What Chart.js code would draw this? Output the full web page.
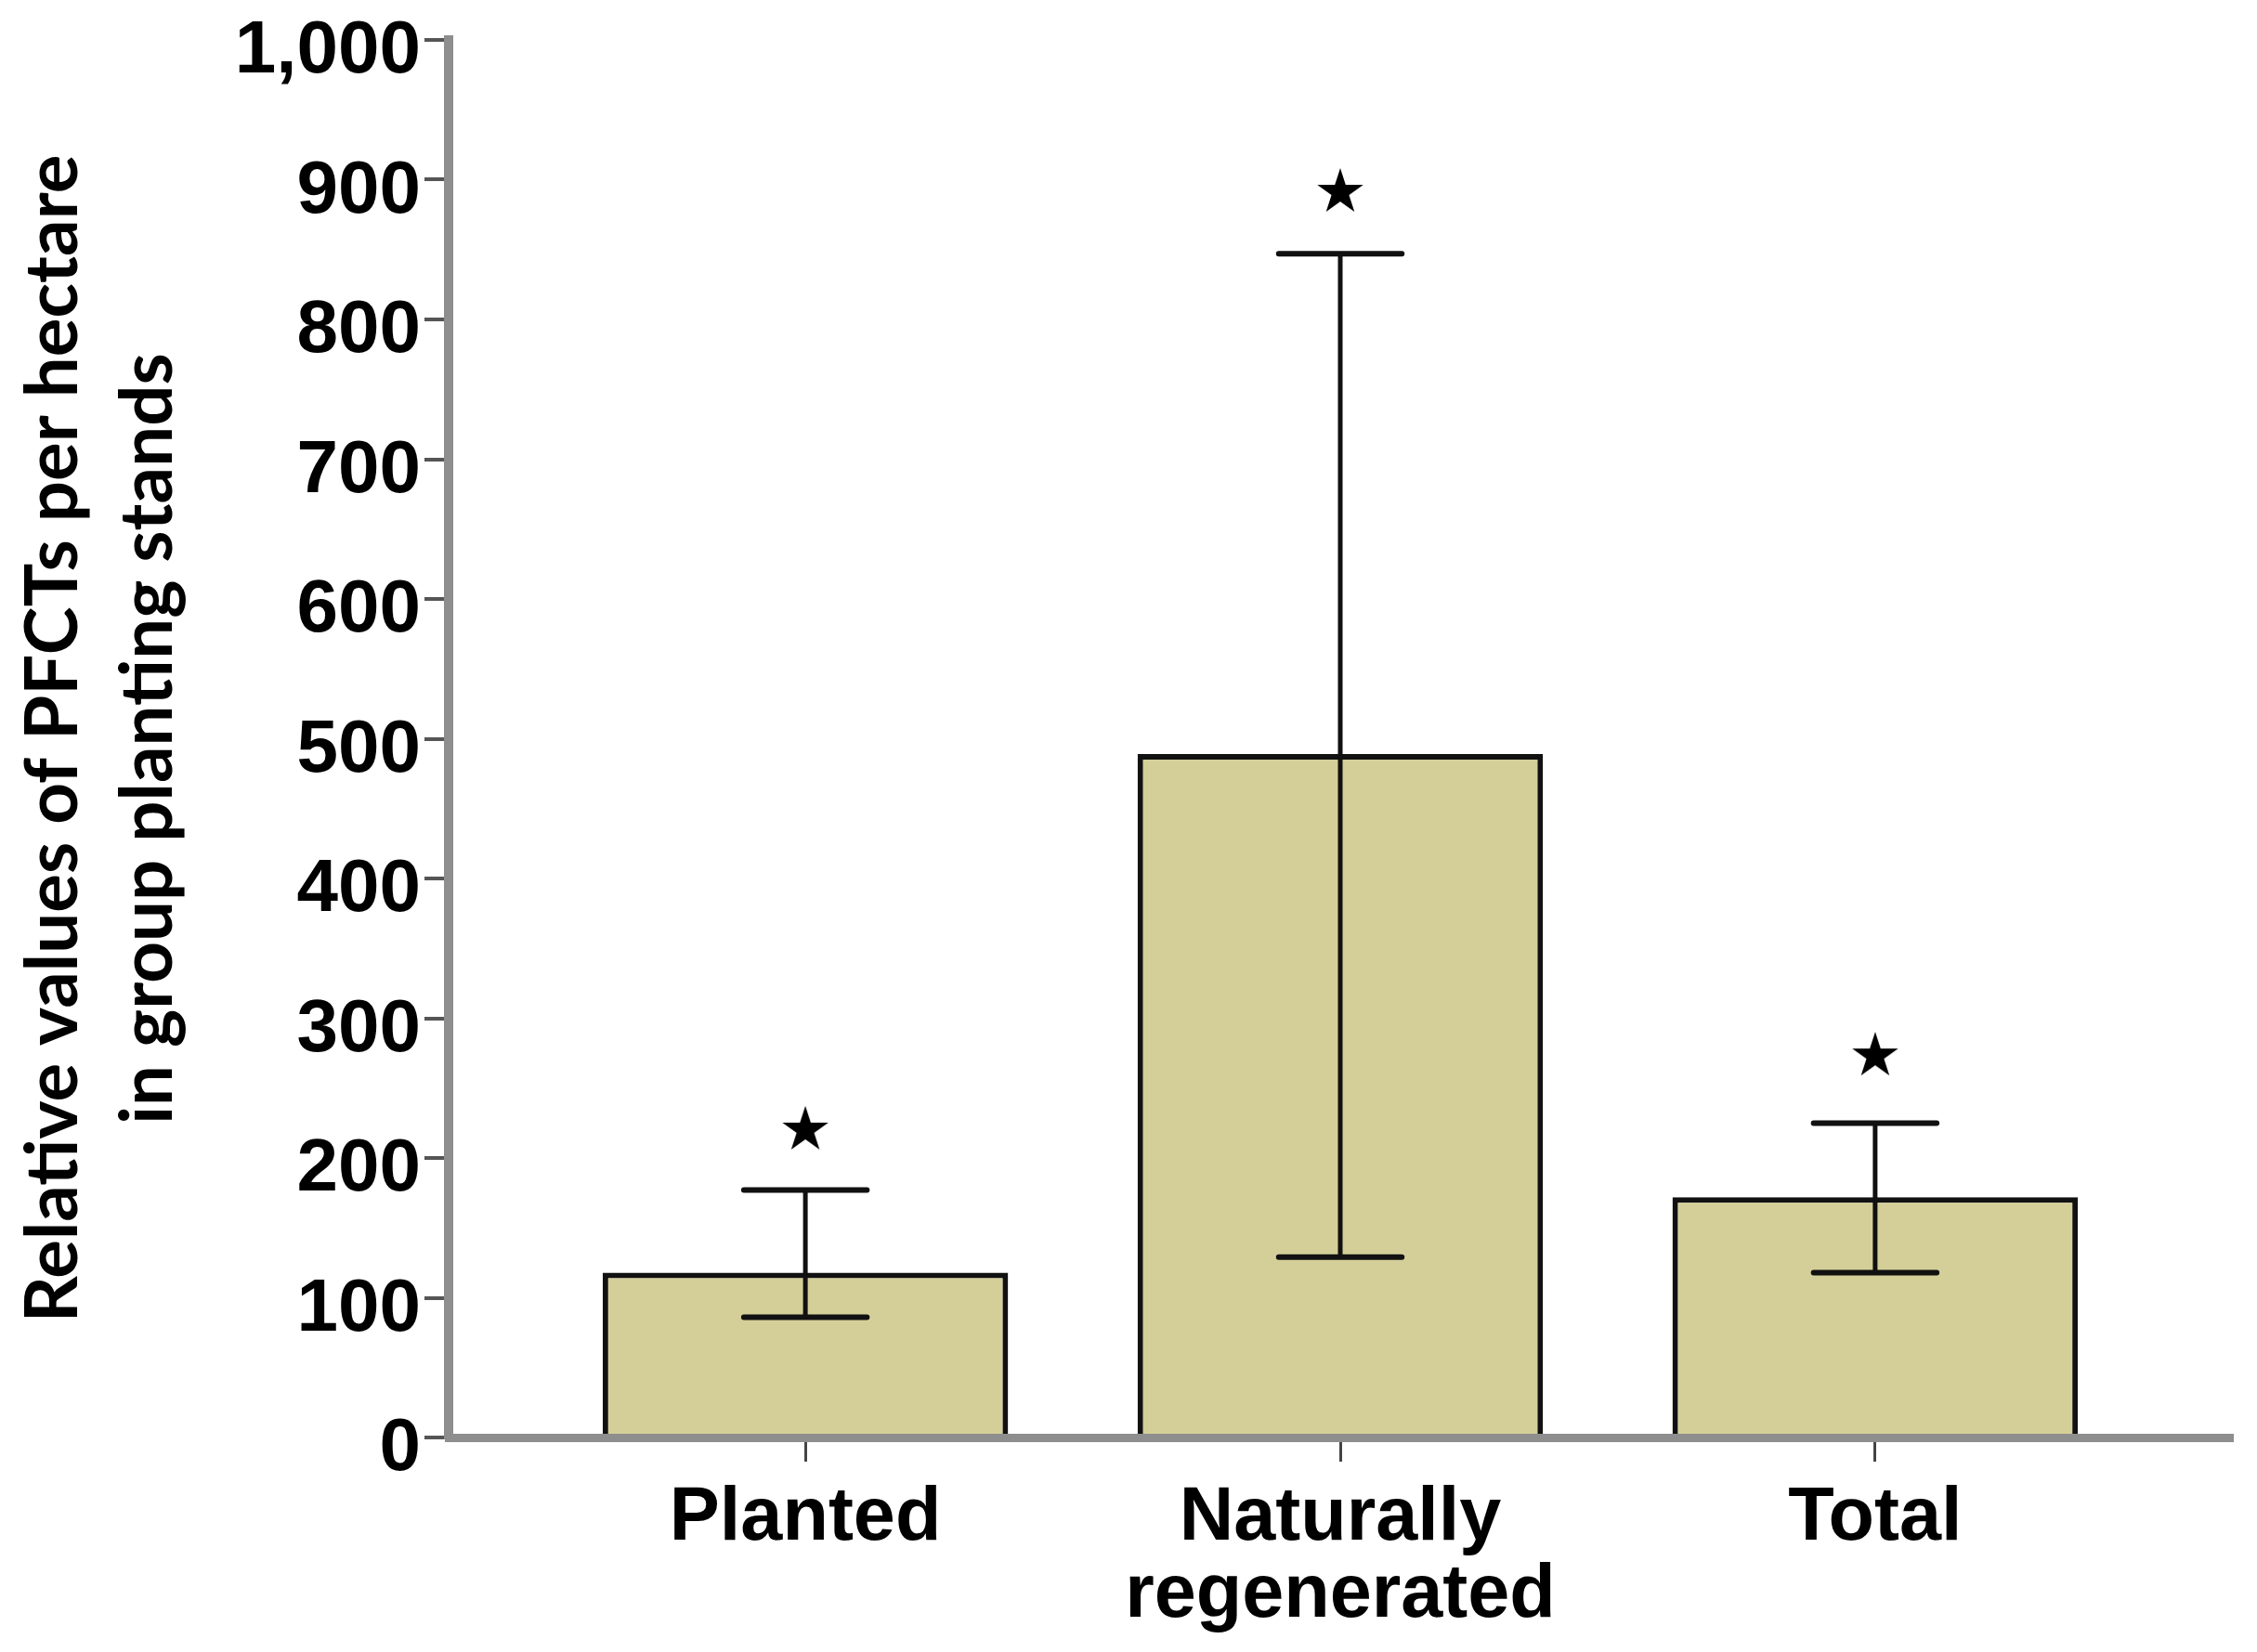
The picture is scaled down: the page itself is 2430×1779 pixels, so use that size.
<!DOCTYPE html>
<html>
<head>
<meta charset="utf-8">
<script src="https://cdn.jsdelivr.net/npm/chart.js@4.4.1/dist/chart.umd.min.js"></script>
<style>
  html, body { margin: 0; padding: 0; background: #fff; }
  #wrap { width: 2430px; height: 1779px; }
</style>
</head>
<body>
<div id="wrap"><canvas id="pfct-chart" width="2430" height="1779"></canvas></div>
<script>
(function () {
  'use strict';

  // data
  const categories = ['Planted', ['Naturally', 'regenerated'], 'Total'];
  const meanValues = [118, 489, 172];
  const errLow = [86, 129, 118];
  const errHigh = [177, 847, 225];
  const starValues = [220, 891, 273];
  const yTickLabels = ['0', '100', '200', '300', '400', '500', '600', '700', '800', '900', '1,000'];
  const yTitleLines = ['Relative values of PFCTs per hectare', 'in group planting stands'];

  const tickFont = '"Liberation Sans", Arial, sans-serif';

  // filled five point star used as the marker image
  const star = document.createElement('canvas');
  star.width = 60;
  star.height = 60;
  (function () {
    const c = star.getContext('2d');
    const R = 26, r = R * 0.382;
    c.beginPath();
    for (let k = 0; k < 10; k++) {
      const rad = k % 2 === 0 ? R : r;
      const a = -Math.PI / 2 + k * Math.PI / 5;
      const px = 30 + rad * Math.cos(a), py = 30 + rad * Math.sin(a);
      if (k === 0) c.moveTo(px, py); else c.lineTo(px, py);
    }
    c.closePath();
    c.fillStyle = '#000';
    c.fill();
  })();

  // whiskers on top of the bars
  const errorBars = {
    id: 'errorBars',
    afterDatasetsDraw(chart) {
      const xs = chart.scales.x, ys = chart.scales.y, ctx = chart.ctx;
      ctx.save();
      ctx.strokeStyle = '#111';
      errLow.forEach(function (lo, i) {
        const cx = xs.getPixelForValue(i);
        const half = xs.getPixelForValue(i + 0.115) - cx;
        const yl = ys.getPixelForValue(lo), yh = ys.getPixelForValue(errHigh[i]);
        ctx.lineWidth = 5;
        ctx.lineCap = 'butt';
        ctx.beginPath();
        ctx.moveTo(cx, yl);
        ctx.lineTo(cx, yh);
        ctx.stroke();
        ctx.lineWidth = 6;
        ctx.lineCap = 'round';
        ctx.beginPath();
        ctx.moveTo(cx - half, yl); ctx.lineTo(cx + half, yl);
        ctx.moveTo(cx - half, yh); ctx.lineTo(cx + half, yh);
        ctx.stroke();
      });
      ctx.restore();
    }
  };

  const ctx = document.getElementById('pfct-chart').getContext('2d');

  new Chart(ctx, {
    type: 'bar',
    data: {
      datasets: [{
        type: 'bar',
        data: meanValues.map(function (v, i) { return { x: i, y: v }; }),
        backgroundColor: '#d4cf98',
        borderColor: '#111',
        borderWidth: 6,
        borderSkipped: 'start',
        barPercentage: 0.758,
        categoryPercentage: 1
      }, {
        type: 'scatter',
        data: starValues.map(function (v, i) { return { x: i, y: v }; }),
        pointStyle: star,
        pointRadius: 26
      }]
    },
    options: {
      responsive: false,
      animation: false,
      devicePixelRatio: 1,
      layout: { padding: { top: 43, right: 20, left: 0, bottom: 0 } },
      plugins: { legend: { display: false }, tooltip: { enabled: false } },
      scales: {
        x: {
          type: 'linear',
          min: -0.667,
          max: 2.667,
          offset: false,
          afterBuildTicks: function (s) { s.ticks = categories.map(function (c, i) { return { value: i }; }); },
          afterFit: function (s) { s.height = 231; },
          grid: { offset: false, drawOnChartArea: false, tickLength: 26, color: '#444', lineWidth: 3 },
          border: { color: '#8e8e8e', width: 9, z: 1 },
          ticks: {
            autoSkip: false,
            maxRotation: 0,
            padding: 20,
            color: '#000',
            font: { family: tickFont, size: 81, weight: 'bold', lineHeight: 1.03 },
            callback: function (v) { return categories[v]; }
          }
        },
        y: {
          min: 0,
          max: 1000,
          afterFit: function (s) { s.width = 483; },
          grid: { drawOnChartArea: false, tickLength: 26, color: '#555', lineWidth: 4 },
          border: { color: '#8e8e8e', width: 10, z: 1 },
          ticks: {
            stepSize: 100,
            padding: 4,
            labelOffset: 13,
            color: '#000',
            font: { family: tickFont, size: 80, weight: 'bold', lineHeight: 0.9 },
            callback: function (v, i) { return yTickLabels[i]; }
          },
          title: {
            display: true,
            text: yTitleLines,
            color: '#000',
            font: { family: 'Lato', size: 78, weight: 'bold', lineHeight: 1.31 },
            padding: { top: 7, bottom: 0 }
          }
        }
      }
    },
    plugins: [errorBars]
  });
})();
</script>
</body>
</html>
